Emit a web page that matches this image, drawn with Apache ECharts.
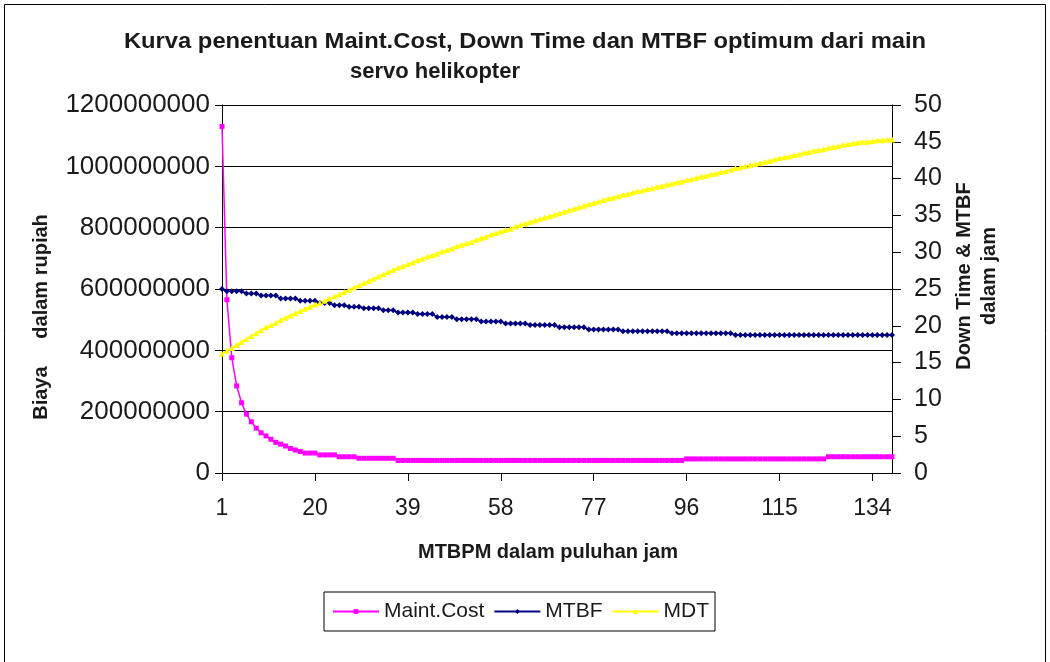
<!DOCTYPE html>
<html>
<head>
<meta charset="utf-8">
<script src="https://cdn.jsdelivr.net/npm/echarts@6/dist/echarts.min.js"></script>
<style>
  html, body { margin: 0; padding: 0; background: #fff; }
  #chart { width: 1050px; height: 662px; }
</style>
</head>
<body>
<div id="chart"></div>
<script>
// MTBPM in tens of hours: 1 .. 138
const categories = [];
for (let k = 1; k <= 138; k++) categories.push(String(k));

// Maintenance cost (rupiah)
const maintCost = [
  1130e6, 565e6, 376e6, 284e6, 229e6, 192e6, 167e6, 146e6, 131e6, 121e6,
  110e6, 100e6, 94e6, 88e6, 80e6, 75e6, 70e6, 65e6, 65e6, 65e6,
  59e6, 59e6, 59e6, 59e6, 53e6, 53e6, 53e6, 53e6, 48e6, 48e6,
  48e6, 48e6, 48e6, 48e6, 48e6, 48e6, 41e6, 41e6, 41e6, 41e6,
  41e6, 41e6, 41e6, 41e6, 41e6, 41e6, 41e6, 41e6, 41e6, 41e6,
  41e6, 41e6, 41e6, 41e6, 41e6, 41e6, 41e6, 41e6, 41e6, 41e6,
  41e6, 41e6, 41e6, 41e6, 41e6, 41e6, 41e6, 41e6, 41e6, 41e6,
  41e6, 41e6, 41e6, 41e6, 41e6, 41e6, 41e6, 41e6, 41e6, 41e6,
  41e6, 41e6, 41e6, 41e6, 41e6, 41e6, 41e6, 41e6, 41e6, 41e6,
  41e6, 41e6, 41e6, 41e6, 41e6, 46e6, 46e6, 46e6, 46e6, 46e6,
  46e6, 46e6, 46e6, 46e6, 46e6, 46e6, 46e6, 46e6, 46e6, 46e6,
  46e6, 46e6, 46e6, 46e6, 46e6, 46e6, 46e6, 46e6, 46e6, 46e6,
  46e6, 46e6, 46e6, 46e6, 53e6, 53e6, 53e6, 53e6, 53e6, 53e6,
  53e6, 53e6, 53e6, 53e6, 53e6, 53e6, 53e6, 53e6
];

// Mean time between failures (hours)
const mtbf = [
  25.0, 24.7, 24.7, 24.7, 24.7, 24.4, 24.4, 24.4, 24.1, 24.1,
  24.1, 24.1, 23.7, 23.7, 23.7, 23.7, 23.4, 23.4, 23.4, 23.4,
  23.1, 23.1, 23.1, 22.8, 22.8, 22.8, 22.6, 22.6, 22.6, 22.4,
  22.4, 22.4, 22.4, 22.1, 22.1, 22.1, 21.8, 21.8, 21.8, 21.8,
  21.6, 21.6, 21.6, 21.6, 21.2, 21.2, 21.2, 21.2, 20.9, 20.9,
  20.9, 20.9, 20.9, 20.6, 20.6, 20.6, 20.6, 20.6, 20.3, 20.3,
  20.3, 20.3, 20.3, 20.1, 20.1, 20.1, 20.1, 20.1, 20.1, 19.8,
  19.8, 19.8, 19.8, 19.8, 19.8, 19.5, 19.5, 19.5, 19.5, 19.5,
  19.5, 19.5, 19.25, 19.25, 19.25, 19.25, 19.25, 19.25, 19.25, 19.25,
  19.25, 19.25, 19.0, 19.0, 19.0, 19.0, 19.0, 19.0, 19.0, 19.0,
  19.0, 19.0, 19.0, 19.0, 19.0, 18.75, 18.75, 18.75, 18.75, 18.75,
  18.75, 18.75, 18.75, 18.75, 18.75, 18.75, 18.75, 18.75, 18.75, 18.75,
  18.75, 18.75, 18.75, 18.75, 18.75, 18.75, 18.75, 18.75, 18.75, 18.75,
  18.75, 18.75, 18.75, 18.75, 18.75, 18.75, 18.75, 18.75
];

// Mean down time (hours)
const mdt = [
  16.2, 16.6, 17.0, 17.4, 17.8, 18.2, 18.6, 19.0, 19.4, 19.8,
  20.1, 20.4, 20.8, 21.1, 21.4, 21.7, 22.0, 22.3, 22.6, 22.9,
  23.1, 23.4, 23.7, 24.0, 24.3, 24.6, 24.9, 25.2, 25.5, 25.8,
  26.1, 26.4, 26.7, 27.0, 27.3, 27.6, 27.9, 28.1, 28.4, 28.6,
  28.9, 29.1, 29.4, 29.6, 29.8, 30.1, 30.3, 30.5, 30.8, 31.0,
  31.2, 31.4, 31.7, 31.9, 32.1, 32.4, 32.6, 32.8, 33.0, 33.2,
  33.5, 33.7, 33.9, 34.1, 34.3, 34.5, 34.7, 34.9, 35.1, 35.3,
  35.5, 35.7, 35.9, 36.1, 36.3, 36.5, 36.7, 36.9, 37.1, 37.3,
  37.4, 37.6, 37.8, 37.9, 38.1, 38.3, 38.4, 38.6, 38.7, 38.9,
  39.0, 39.2, 39.3, 39.5, 39.6, 39.8, 39.9, 40.1, 40.3, 40.4,
  40.6, 40.7, 40.9, 41.0, 41.2, 41.4, 41.5, 41.7, 41.8, 42.0,
  42.1, 42.3, 42.4, 42.6, 42.8, 42.9, 43.0, 43.2, 43.3, 43.5,
  43.6, 43.8, 43.9, 44.0, 44.2, 44.3, 44.4, 44.6, 44.7, 44.8,
  44.9, 45.0, 45.0, 45.1, 45.2, 45.2, 45.3, 45.3
];

const seriesNames = ['Maint.Cost', 'MTBF', 'MDT'];
const titleLines = ['Kurva penentuan Maint.Cost, Down Time dan MTBF optimum dari main', 'servo helikopter'];
const xAxisTitle = 'MTBPM dalam puluhan jam';
const leftAxisTitle = 'Biaya     dalam rupiah';
const rightAxisTitle = 'Down Time & MTBF\ndalam jam';

const FONT = '"Liberation Sans", Arial, sans-serif';
const INK = '#1a1a1a';

const chart = echarts.init(document.getElementById('chart'));

chart.setOption({
  animation: false,
  backgroundColor: '#fff',
  grid: { left: 222, right: 158, top: 105, bottom: 189 },
  legend: {
    data: seriesNames,
    left: 324,
    top: 592,
    orient: 'horizontal',
    itemWidth: 46,
    itemHeight: 6,
    itemGap: 9,
    padding: [9, 6, 9, 8],
    borderColor: '#000',
    borderWidth: 1,
    textStyle: { fontFamily: FONT, fontSize: 21, color: INK }
  },
  xAxis: {
    type: 'category',
    data: categories,
    boundaryGap: false,
    axisLine: { lineStyle: { color: '#000', width: 1 } },
    axisTick: { interval: 18, length: 8, lineStyle: { color: '#000' } },
    axisLabel: { interval: 18, fontFamily: FONT, fontSize: 23, color: INK, margin: 24 },
    splitLine: { show: false }
  },
  yAxis: [
    {
      type: 'value',
      position: 'left',
      min: 0,
      max: 1200000000,
      interval: 200000000,
      axisLine: { show: true, lineStyle: { color: '#000', width: 1 } },
      axisTick: { show: true, length: 7, lineStyle: { color: '#000' } },
      axisLabel: {
        fontFamily: FONT, fontSize: 26, color: INK, margin: 12,
        formatter: v => String(v)
      },
      splitLine: { show: true, lineStyle: { color: '#000', width: 1 } }
    },
    {
      type: 'value',
      position: 'right',
      min: 0,
      max: 50,
      interval: 5,
      axisLine: { show: true, lineStyle: { color: '#000', width: 1 } },
      axisTick: { show: true, length: 9, lineStyle: { color: '#000' } },
      axisLabel: { fontFamily: FONT, fontSize: 25, color: INK, margin: 22 },
      splitLine: { show: false }
    }
  ],
  series: [
    {
      name: seriesNames[0],
      type: 'line',
      yAxisIndex: 0,
      data: maintCost,
      symbol: 'rect',
      symbolSize: 5,
      showAllSymbol: true,
      lineStyle: { color: '#FF00FF', width: 1.5 },
      itemStyle: { color: '#FF00FF' }
    },
    {
      name: seriesNames[1],
      type: 'line',
      yAxisIndex: 1,
      data: mtbf,
      symbol: 'diamond',
      symbolSize: 6,
      showAllSymbol: true,
      lineStyle: { color: '#000080', width: 1.5 },
      itemStyle: { color: '#000080' }
    },
    {
      name: seriesNames[2],
      type: 'line',
      yAxisIndex: 1,
      data: mdt,
      symbol: 'triangle',
      symbolSize: 6,
      showAllSymbol: true,
      lineStyle: { color: '#FFFF00', width: 1.5 },
      itemStyle: { color: '#FFFF00' }
    }
  ],
  graphic: [
    {
      type: 'rect',
      silent: true,
      shape: { x: 4.5, y: 4.5, width: 1041, height: 700 },
      style: { fill: 'none', stroke: '#000', lineWidth: 1 }
    },
    {
      type: 'text',
      x: 525, y: 42,
      scaleX: 1.08,
      style: {
        text: titleLines[0], fill: INK,
        font: 'bold 22px ' + FONT,
        textAlign: 'center', textVerticalAlign: 'middle'
      }
    },
    {
      type: 'text',
      x: 350, y: 72,
      style: {
        text: titleLines[1], fill: INK,
        font: 'bold 22px ' + FONT,
        textAlign: 'left', textVerticalAlign: 'middle'
      }
    },
    {
      type: 'text',
      x: 548, y: 552,
      style: {
        text: xAxisTitle, fill: INK,
        font: 'bold 20px ' + FONT,
        textAlign: 'center', textVerticalAlign: 'middle'
      }
    },
    {
      type: 'text',
      x: 41, y: 317,
      rotation: Math.PI / 2,
      style: {
        text: leftAxisTitle, fill: INK,
        font: 'bold 20px ' + FONT,
        textAlign: 'center', textVerticalAlign: 'middle'
      }
    },
    {
      type: 'text',
      x: 977, y: 276,
      rotation: Math.PI / 2,
      style: {
        text: rightAxisTitle, fill: INK,
        font: 'bold 20px ' + FONT,
        lineHeight: 25,
        textAlign: 'center', textVerticalAlign: 'middle'
      }
    }
  ]
});
</script>
</body>
</html>
